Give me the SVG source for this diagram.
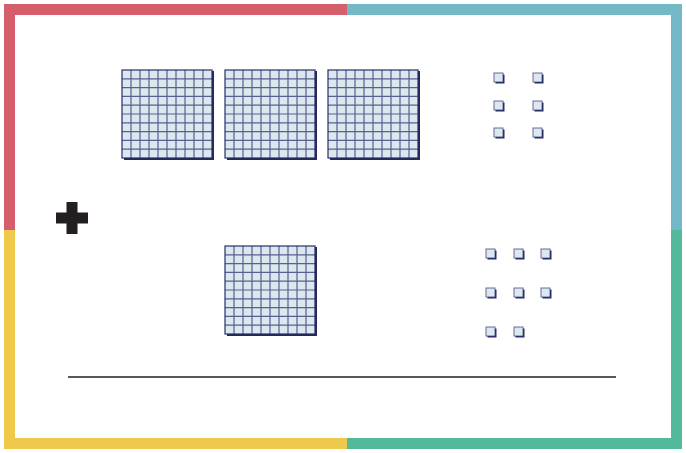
<svg xmlns="http://www.w3.org/2000/svg" width="686" height="453" viewBox="0 0 686 453">
<style>
.gl{fill:none;stroke:#2e3070;stroke-width:1.2;stroke-opacity:0.75}
.gb{fill:none;stroke:#2b2d6c;stroke-width:1.2}
.gs{fill:none;stroke:#26285f;stroke-width:2}
.cf{fill:#dbe9ef;stroke:#2e3070;stroke-width:1;stroke-opacity:0.7}
.cs{fill:#2b2d6c}
</style>
<defs>
<g id="grid">
<rect x="0" y="0" width="90" height="88" fill="#dbe9ef"/>
<path class="gl" d="M9,0V88M18,0V88M27,0V88M36,0V88M45,0V88M54,0V88M63,0V88M72,0V88M81,0V88M0,8.8H90M0,17.6H90M0,26.4H90M0,35.2H90M0,44H90M0,52.8H90M0,61.6H90M0,70.4H90M0,79.2H90"/>
<rect class="gb" x="0" y="0" width="90" height="88"/>
<path class="gs" d="M91,1V89H2"/>
</g>
<g id="cube">
<rect class="cs" x="1.5" y="1.5" width="9" height="9"/>
<rect class="cf" x="0" y="0" width="9" height="9"/>
</g>
</defs>
<rect width="686" height="453" fill="#ffffff"/>
<g id="frame">
<path d="M4,4H347V15H15V230H4Z" fill="#d45f6b"/>
<path d="M347,4H682V230H671V15H347Z" fill="#72b8c6"/>
<path d="M4,230H15V438H347V449H4Z" fill="#efc94c"/>
<path d="M671,230H682V449H347V438H671Z" fill="#54b89a"/>
</g>
<g id="hundreds-top">
<use href="#grid" x="122" y="70"/>
<use href="#grid" x="225" y="70"/>
<use href="#grid" x="328" y="70"/>
</g>
<g id="ones-top">
<use href="#cube" x="494" y="73"/>
<use href="#cube" x="533" y="73"/>
<use href="#cube" x="494" y="101"/>
<use href="#cube" x="533" y="101"/>
<use href="#cube" x="494" y="128"/>
<use href="#cube" x="533" y="128"/>
</g>
<g id="plus">
<rect x="66.5" y="202" width="11" height="32" fill="#231f20"/>
<rect x="56" y="212.5" width="32" height="11" fill="#231f20"/>
</g>
<g id="hundreds-bottom">
<use href="#grid" x="225" y="246"/>
</g>
<g id="ones-bottom">
<use href="#cube" x="486" y="249"/>
<use href="#cube" x="514" y="249"/>
<use href="#cube" x="541" y="249"/>
<use href="#cube" x="486" y="288"/>
<use href="#cube" x="514" y="288"/>
<use href="#cube" x="541" y="288"/>
<use href="#cube" x="486" y="327"/>
<use href="#cube" x="514" y="327"/>
</g>
<g id="connectors">
<line x1="68" y1="377" x2="616" y2="377" stroke="#231f20" stroke-width="1.3"/>
</g>
</svg>
